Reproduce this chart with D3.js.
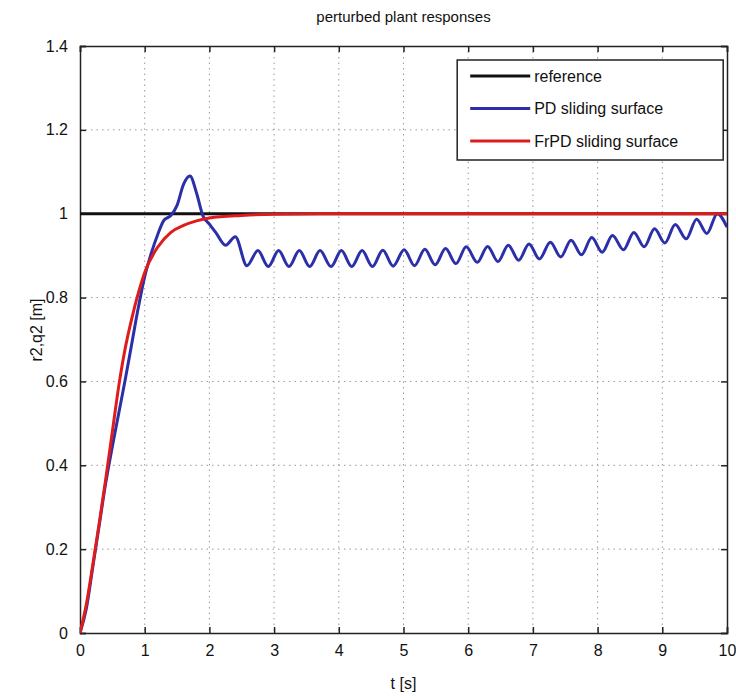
<!DOCTYPE html>
<html>
<head>
<meta charset="utf-8">
<script src="https://cdn.jsdelivr.net/npm/d3@7"></script>
<style>
  body { margin: 0; background: #fff; }
  svg { font-family: "Liberation Sans", Arial, sans-serif; }
  .grid line { stroke: #999; stroke-dasharray: 1.5 4; stroke-width: 1; }
  .axis path, .axis line { stroke: #222; stroke-width: 1.5; }
  .axis text { font-size: 16px; fill: #111; }
</style>
</head>
<body>
<div id="chart"></div>
<script>
// tick values
const xTicks = [0, 1, 2, 3, 4, 5, 6, 7, 8, 9, 10]
const yTicks = [0, 0.2, 0.4, 0.6, 0.8, 1, 1.2, 1.4]

// reference signal [t, value]
const reference = [[0, 1], [10, 1]]

// PD sliding surface response [t, value]
const pdResponse = [
  [0, 0], [0.1, 0.06], [0.2, 0.16], [0.3, 0.26], [0.4, 0.36], [0.5, 0.445],
  [0.6, 0.525], [0.7, 0.605], [0.8, 0.69], [0.9, 0.775], [1.0, 0.85], [1.1, 0.905],
  [1.2, 0.95], [1.3, 0.985], [1.4, 0.995], [1.5, 1.02], [1.6, 1.07], [1.7, 1.09],
  [1.8, 1.05], [1.9, 0.995], [2.0, 0.975], [2.1, 0.955], [2.25, 0.925], [2.4, 0.945],
  [2.58, 0.876], [2.75, 0.912], [2.91, 0.874], [3.07, 0.912], [3.23, 0.874],
  [3.39, 0.912], [3.55, 0.874], [3.71, 0.912], [3.88, 0.874], [4.04, 0.912],
  [4.20, 0.874], [4.36, 0.912], [4.52, 0.874], [4.68, 0.913], [4.84, 0.875],
  [5.01, 0.914], [5.17, 0.876], [5.33, 0.915], [5.49, 0.878], [5.65, 0.917],
  [5.81, 0.881], [5.97, 0.921], [6.14, 0.884], [6.30, 0.922], [6.46, 0.886],
  [6.62, 0.925], [6.78, 0.889], [6.94, 0.928], [7.10, 0.892], [7.27, 0.932],
  [7.43, 0.897], [7.59, 0.937], [7.75, 0.902], [7.91, 0.943], [8.07, 0.908],
  [8.23, 0.948], [8.40, 0.914], [8.56, 0.955], [8.72, 0.921], [8.88, 0.964],
  [9.04, 0.93], [9.20, 0.974], [9.37, 0.94], [9.53, 0.987], [9.69, 0.953],
  [9.85, 1.0], [10.0, 0.968]
]

// FrPD sliding surface response [t, value]
const frpdResponse = [
  [0, 0], [0.1, 0.07], [0.2, 0.165], [0.3, 0.265], [0.4, 0.37], [0.5, 0.48],
  [0.6, 0.59], [0.7, 0.68], [0.8, 0.75], [0.9, 0.81], [1.0, 0.86], [1.2, 0.92],
  [1.4, 0.955], [1.6, 0.972], [1.8, 0.983], [2.0, 0.99], [2.5, 0.996],
  [3.0, 0.999], [4.0, 1.0], [10.0, 1.0]
]

const series = [
  { name: "reference", data: reference, color: "#111" },
  { name: "PD sliding surface", data: pdResponse, color: "#2b2fa8" },
  { name: "FrPD sliding surface", data: frpdResponse, color: "#e01b1b" }
]

const W = 736, H = 698
const margin = { top: 46, right: 9, bottom: 65, left: 80 }
const width = W - margin.left - margin.right
const height = H - margin.top - margin.bottom

const svg = d3.select("#chart").append("svg")
  .attr("width", W)
  .attr("height", H)

const g = svg.append("g")
  .attr("transform", "translate(" + margin.left + "," + margin.top + ")")

const x = d3.scaleLinear().domain([0, 10]).range([0, width])
const y = d3.scaleLinear().domain([0, 1.4]).range([height, 0])

// grid
g.append("g").attr("class", "grid")
  .selectAll("line").data(xTicks.slice(1, -1)).join("line")
  .attr("x1", d => x(d)).attr("x2", d => x(d))
  .attr("y1", 0).attr("y2", height)
g.append("g").attr("class", "grid")
  .selectAll("line").data(yTicks.slice(1, -1)).join("line")
  .attr("x1", 0).attr("x2", width)
  .attr("y1", d => y(d)).attr("y2", d => y(d))

// axes, ticks inward
g.append("g").attr("class", "axis")
  .attr("transform", "translate(0," + height + ")")
  .call(d3.axisBottom(x).tickValues(xTicks).tickSize(-6).tickPadding(12).tickFormat(d3.format("d")))
g.append("g").attr("class", "axis")
  .call(d3.axisLeft(y).tickValues(yTicks).tickSize(-6).tickPadding(12).tickFormat(d => String(d)))
g.append("g").attr("class", "axis")
  .call(d3.axisTop(x).tickValues(xTicks).tickSize(-6).tickFormat(""))
g.append("g").attr("class", "axis")
  .attr("transform", "translate(" + width + ",0)")
  .call(d3.axisRight(y).tickValues(yTicks).tickSize(-6).tickFormat(""))

// lines
const line = d3.line()
  .x(d => x(d[0]))
  .y(d => y(d[1]))
  .curve(d3.curveMonotoneX)

g.append("defs").append("clipPath").attr("id", "clip")
  .append("rect").attr("width", width).attr("height", height)

g.append("g").attr("clip-path", "url(#clip)")
  .selectAll("path").data(series).join("path")
  .attr("d", d => line(d.data))
  .attr("fill", "none")
  .attr("stroke", d => d.color)
  .attr("stroke-width", 3)
  .attr("stroke-linejoin", "round")

// legend
const legend = g.append("g")
  .attr("transform", "translate(" + x(5.83) + "," + 14 + ")")
legend.append("rect")
  .attr("width", 266).attr("height", 100)
  .attr("fill", "#fff").attr("stroke", "#222").attr("stroke-width", 1.5)
const items = legend.selectAll(".item").data(series).join("g")
  .attr("transform", (d, i) => "translate(0," + (16 + i * 32.5) + ")")
items.append("line")
  .attr("x1", 13).attr("x2", 73)
  .attr("stroke", d => d.color).attr("stroke-width", 3)
items.append("text")
  .attr("x", 77).attr("dy", "0.35em")
  .style("font-size", "16px").attr("fill", "#111")
  .text(d => d.name)

// title and axis labels
svg.append("text")
  .attr("x", margin.left + width / 2).attr("y", 22)
  .attr("text-anchor", "middle")
  .style("font-size", "15px").attr("fill", "#111")
  .text("perturbed plant responses")
svg.append("text")
  .attr("x", margin.left + width / 2).attr("y", 689)
  .attr("text-anchor", "middle")
  .style("font-size", "16px").attr("fill", "#111")
  .text("t [s]")
svg.append("text")
  .attr("transform", "translate(42,330) rotate(-90)")
  .attr("text-anchor", "middle")
  .style("font-size", "16px").attr("fill", "#111")
  .text("r2,q2 [m]")
</script>
</body>
</html>
